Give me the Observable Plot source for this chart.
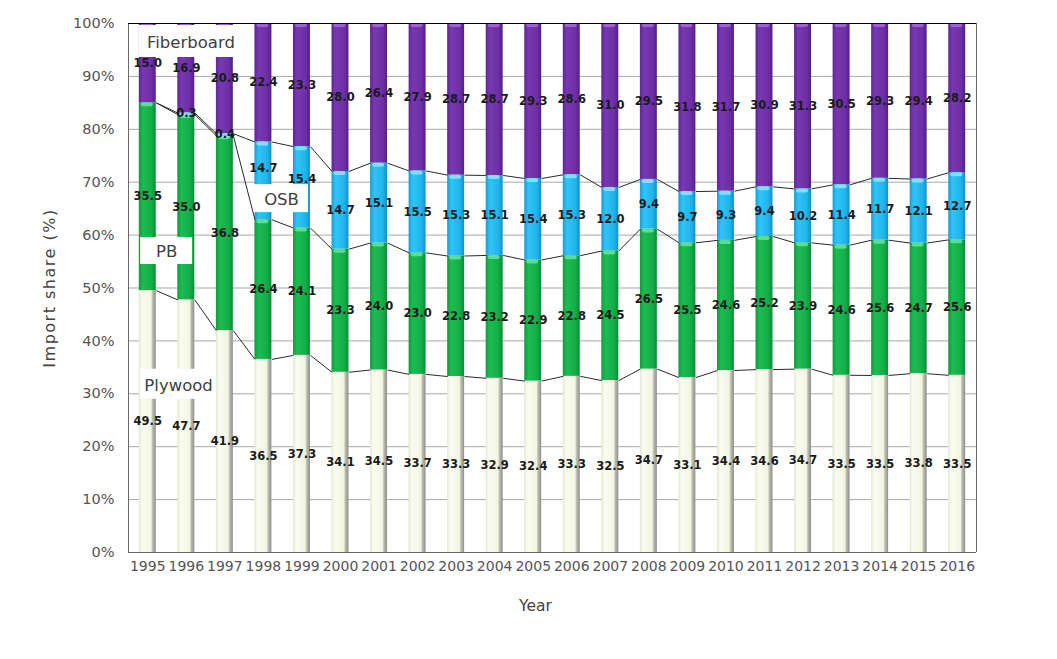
<!DOCTYPE html>
<html>
<head>
<meta charset="utf-8">
<script src="https://cdn.jsdelivr.net/npm/d3@7"></script>
<script src="https://cdn.jsdelivr.net/npm/@observablehq/plot@0.6"></script>
<style>
  html, body { margin: 0; padding: 0; background: #fff; }
  #chart svg { display: block; }
</style>
</head>
<body>
<div id="chart"></div>
<script>
// ---- data ----
const years = [1995,1996,1997,1998,1999,2000,2001,2002,2003,2004,2005,2006,2007,2008,2009,2010,2011,2012,2013,2014,2015,2016];
const seriesNames = ["Plywood", "PB", "OSB", "Fiberboard"];
const plywood    = [49.5,47.7,41.9,36.5,37.3,34.1,34.5,33.7,33.3,32.9,32.4,33.3,32.5,34.7,33.1,34.4,34.6,34.7,33.5,33.5,33.8,33.5];
const pb         = [35.5,35.0,36.8,26.4,24.1,23.3,24.0,23.0,22.8,23.2,22.9,22.8,24.5,26.5,25.5,24.6,25.2,23.9,24.6,25.6,24.7,25.6];
const osb        = [0.0,0.3,0.4,14.7,15.4,14.7,15.1,15.5,15.3,15.1,15.4,15.3,12.0,9.4,9.7,9.3,9.4,10.2,11.4,11.7,12.1,12.7];
const fiberboard = [15.0,16.9,20.8,22.4,23.3,28.0,26.4,27.9,28.7,28.7,29.3,28.6,31.0,29.5,31.8,31.7,30.9,31.3,30.5,29.3,29.4,28.2];
const yTicks = [0,10,20,30,40,50,60,70,80,90,100];
// series-name annotations (anchored in data space: year, share %)
const annoLabels = ["Fiberboard", "PB", "OSB", "Plywood"];
const annoYear   = [1996.12, 1995.49, 1998.47, 1995.8];
const annoShare  = [96.6, 57.0, 66.9, 31.8];

// ---- styles ----
const gradStops = [
  [["0%","#e4e7cf"],["18%","#fbfcf0"],["72%","#f3f5e3"],["82%","#b9bbad"],["100%","#8e8e8e"]],
  [["0%","#0e9c3e"],["25%","#1cbc52"],["75%","#14ad48"],["100%","#0b8c36"]],
  [["0%","#149fd8"],["25%","#30c4f6"],["75%","#20b4ec"],["100%","#1290c8"]],
  [["0%","#5e2696"],["25%","#7838b0"],["75%","#6e2ea6"],["100%","#52208a"]]
];
const capColors = [null, "#62e29a", "#86e6fa", "#a468dc"];
const boxSizes = [[104, 32], [52, 27], [54, 28], [76, 30]];
const labelNudge = {"OSB-1998": -13, "OSB-1999": -8}; // pixel shifts of labels moved clear of the OSB box
const hw = 0.22; // half bar width in year units

// ---- build stacked rows ----
const seriesValues = [plywood, pb, osb, fiberboard];
const rows = [];
const tops = seriesNames.map(() => []);
years.forEach((yr, i) => {
  const total = seriesValues.reduce((s, arr) => s + arr[i], 0);
  let cum = 0;
  seriesValues.forEach((arr, k) => {
    const v = arr[i];
    const y1 = cum / total * 100;
    cum += v;
    const y2 = cum / total * 100;
    tops[k].push(y2);
    rows.push({year: yr, series: seriesNames[k], k, value: v, y1, y2, mid: (y1 + y2) / 2});
  });
});
const links = [];
for (let k = 0; k < 3; k++) {
  for (let i = 0; i < years.length - 1; i++) {
    links.push({x1: years[i] + hw, y1: tops[k][i], x2: years[i + 1] - hw, y2: tops[k][i + 1]});
  }
}
const annos = annoLabels.map((t, i) => ({label: t, year: annoYear[i], share: annoShare[i], i}));

// gradient defs
function defsMark() {
  const defs = d3.create("svg:defs");
  gradStops.forEach((stops, k) => {
    const g = defs.append("linearGradient").attr("id", "grad" + k)
      .attr("x1", "0").attr("x2", "1").attr("y1", "0").attr("y2", "0");
    stops.forEach(([o, c]) => g.append("stop").attr("offset", o).attr("stop-color", c));
  });
  return defs.node();
}

const marks = [defsMark, Plot.ruleY(yTicks, {stroke: "#a9a9a9", strokeWidth: 1})];
seriesNames.forEach((name, k) => {
  marks.push(Plot.rectY(rows.filter(d => d.k === k && d.value > 0), {
    x1: d => d.year - hw, x2: d => d.year + hw, y1: "y1", y2: "y2", fill: `url(#grad${k})`
  }));
});
seriesNames.forEach((name, k) => {
  if (!capColors[k]) return;
  marks.push(Plot.rectY(rows.filter(d => d.k === k && d.value > 0), {
    x1: d => d.year - hw, x2: d => d.year + hw, y1: "y2", y2: "y2",
    insetTop: 0, insetBottom: -4, insetLeft: 2, insetRight: 3, rx: 3, fill: capColors[k], fillOpacity: 0.9
  }));
});
const labelRows = rows.filter(d => d.value > 0);
const plain = labelRows.filter(d => !labelNudge[d.series + "-" + d.year]);
const nudged = labelRows.filter(d => labelNudge[d.series + "-" + d.year]);
const labelStyle = {x: "year", text: d => d.value.toFixed(1), fontSize: 11.5, fontWeight: "bold", fill: "#1a1a1a", fontFamily: "DejaVu Sans"};
marks.push(
  Plot.link(links, {x1: "x1", y1: "y1", x2: "x2", y2: "y2", stroke: "#2a2a2a", strokeWidth: 1}),
  Plot.text(plain, {...labelStyle, y: "mid"})
);
nudged.forEach(d => {
  marks.push(Plot.text([d], {...labelStyle, y: "mid", dy: labelNudge[d.series + "-" + d.year]}));
});
annos.forEach(a => {
  const [w, h] = boxSizes[a.i];
  marks.push(Plot.rect([a], {
    x1: "year", x2: "year", y1: "share", y2: "share",
    insetLeft: -w / 2, insetRight: -w / 2, insetTop: -h / 2, insetBottom: -h / 2,
    fill: "white"
  }));
});
marks.push(
  Plot.text(annos, {x: "year", y: "share", text: "label", fontSize: 16.5, fill: "#404040", fontFamily: "DejaVu Sans", dy: 1}),
  Plot.ruleX([1994.5], {stroke: "#6a6a6a", strokeWidth: 1}),
  Plot.ruleX([2016.5], {stroke: "#6a6a6a", strokeWidth: 1}),
  Plot.ruleY([0], {stroke: "#6a6a6a", strokeWidth: 1}),
  Plot.ruleY([100], {stroke: "#000", strokeWidth: 1}),
  Plot.axisY(yTicks, {tickSize: 0, tickPadding: 14, tickFormat: d => d + "%", label: null, fontSize: 14.5, fill: "#555"}),
  Plot.axisX(years, {tickSize: 0, tickPadding: 9, tickFormat: d => String(d), label: null, fontSize: 14, fill: "#555"}),
  Plot.text(["Import share (%)"], {frameAnchor: "left", textAnchor: "middle", rotate: -90, dx: -79, fontSize: 16, fill: "#444", fontFamily: "DejaVu Sans", style: "letter-spacing:1.5px"}),
  Plot.text(["Year"], {frameAnchor: "bottom", textAnchor: "middle", dx: -17, dy: 58, fontSize: 15.5, fill: "#444", fontFamily: "DejaVu Sans"})
);

const chart = Plot.plot({
  width: 1057,
  height: 659,
  marginLeft: 128,
  marginRight: 81,
  marginTop: 23,
  marginBottom: 107,
  style: {fontFamily: "DejaVu Sans", fontSize: "14px", color: "#555", background: "#fff"},
  x: {type: "linear", domain: [1994.5, 2016.5]},
  y: {domain: [0, 100]},
  marks
});
// letter spacing for the y-axis title
d3.select(chart).selectAll("text").filter(function() { return this.textContent === "Import share (%)"; })
  .style("letter-spacing", "1.5px");
document.getElementById("chart").append(chart);
</script>
</body>
</html>
